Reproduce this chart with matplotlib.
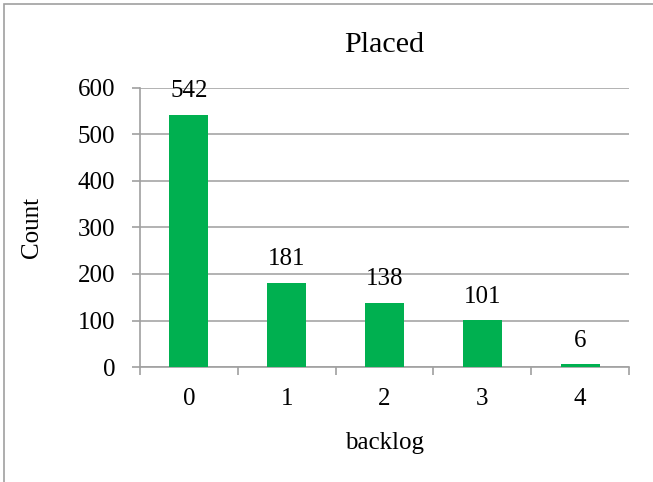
import matplotlib.pyplot as plt
from matplotlib.patches import Rectangle

backlog = ['0', '1', '2', '3', '4']
placed = [542, 181, 138, 101, 6]
yticks = [0, 100, 200, 300, 400, 500, 600]

plt.rcParams['font.family'] = ['Liberation Serif', 'DejaVu Serif']
plt.rcParams['font.size'] = 18

fig = plt.figure(figsize=(6.53, 4.82), dpi=100)
# chart border
fig.patches.append(Rectangle((4 / 653, -0.1), 1.2, 1.1 - 4 / 482, transform=fig.transFigure,
                             fill=False, edgecolor='#a0a0a0', linewidth=1.2))

ax = fig.add_axes([140 / 653, 1 - 367 / 482, 489 / 653, 279 / 482])
x = range(len(backlog))
bars = ax.bar(x, placed, width=0.4, color='#00b050', zorder=3)
for b, v in zip(bars, placed):
    ax.annotate(str(v), (b.get_x() + b.get_width() / 2, v), xytext=(0, 9),
                textcoords='offset points', ha='center', va='bottom')

ax.set_xlim(-0.5, len(backlog) - 0.5)
ax.set_ylim(0, 600)
ax.set_yticks(yticks)
ax.set_xticks(list(x))
ax.set_xticklabels(backlog)
ax.set_xticks([i - 0.5 for i in range(len(backlog) + 1)], minor=True)
ax.yaxis.grid(True, color='#a6a6a6', linewidth=1.2, zorder=0)
for s in ['top', 'right']:
    ax.spines[s].set_visible(False)
for s in ['left', 'bottom']:
    ax.spines[s].set_color('#a0a0a0')
    ax.spines[s].set_linewidth(1.2)
ax.tick_params(axis='y', length=6, color='#a0a0a0', width=1.2, pad=12)
ax.tick_params(axis='x', which='major', length=0, pad=15)
ax.tick_params(axis='x', which='minor', length=6, color='#a0a0a0', width=1.2)

ax.set_title('Placed', pad=26)
ax.set_ylabel('Count', labelpad=25)
ax.set_xlabel('backlog', labelpad=16)

fig.savefig('out.png', dpi=100)
